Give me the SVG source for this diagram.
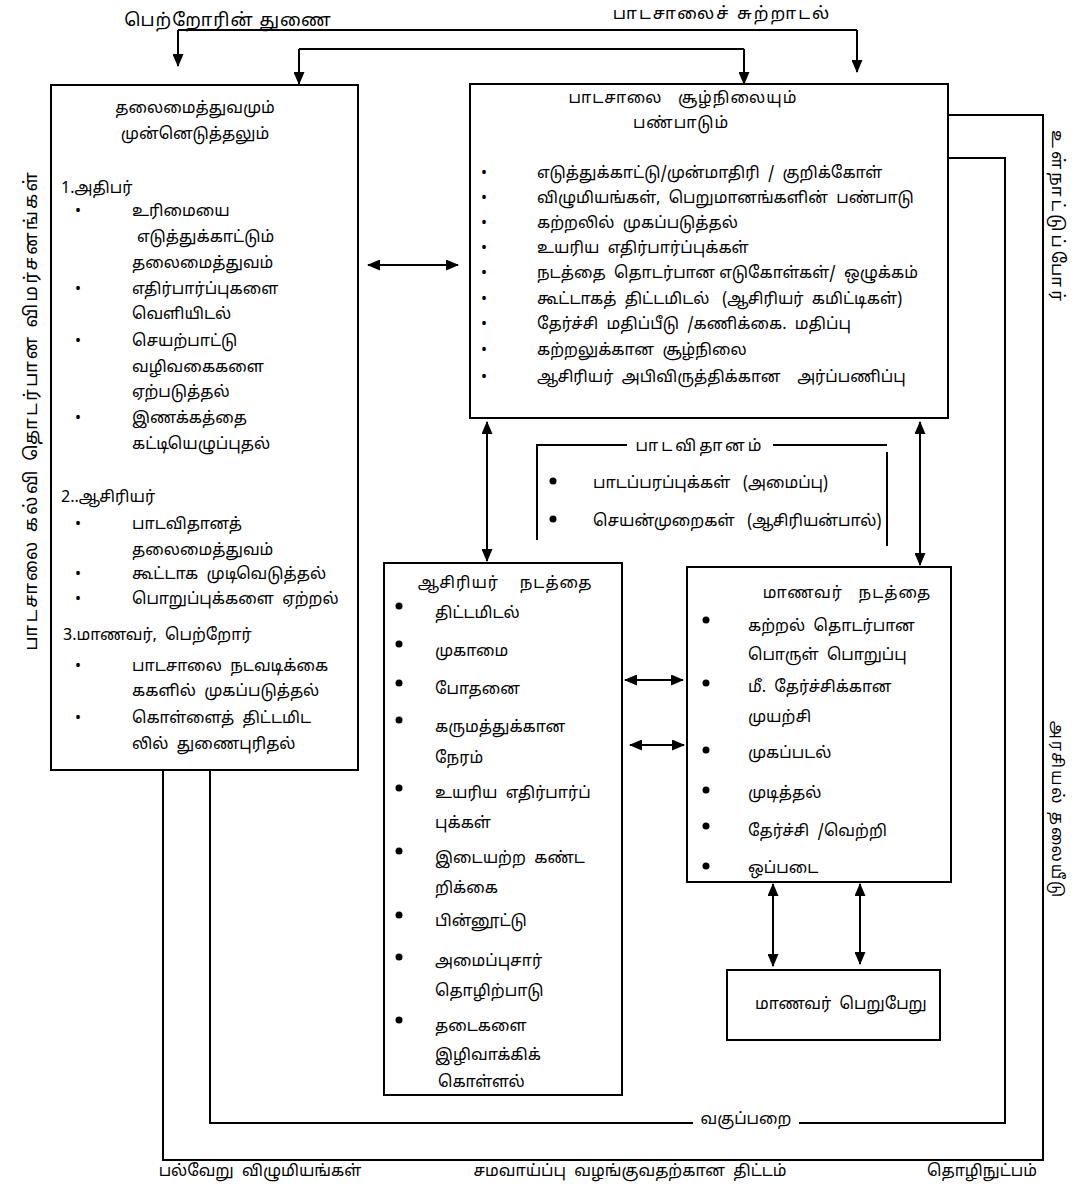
<svg xmlns="http://www.w3.org/2000/svg" width="1074" height="1184" viewBox="0 0 1074 1184">
<defs>
<marker id="ah" viewBox="0 0 13 11" refX="12" refY="5.5" markerWidth="13" markerHeight="11" markerUnits="userSpaceOnUse" orient="auto-start-reverse">
<path d="M0,0 L13,5.5 L0,11 Z" fill="#000"/>
</marker>
</defs>
<style>
text{font-family:'Noto Sans Tamil','Lohit Tamil','Noto Sans','Liberation Sans',sans-serif;font-size:16px;fill:#000;white-space:pre}
.box{fill:#fff;stroke:#000;stroke-width:2}
.ln{fill:none;stroke:#000;stroke-width:2}
.ar{fill:none;stroke:#000;stroke-width:2;marker-end:url(#ah)}
.dar{fill:none;stroke:#000;stroke-width:2;marker-start:url(#ah);marker-end:url(#ah)}
.c{text-anchor:middle}
.sp{letter-spacing:1px}
</style>
<rect width="1074" height="1184" fill="#fff"/>

<g id="connectors">
<polyline class="ln" points="178,30 857,30"/>
<line class="ar" x1="178" y1="30" x2="178" y2="66"/>
<line class="ar" x1="857" y1="30" x2="857" y2="72"/>
<polyline class="ln" points="299,49 744,49"/>
<line class="ar" x1="299" y1="49" x2="299" y2="84"/>
<line class="ar" x1="744" y1="49" x2="744" y2="84"/>
<line class="dar" x1="368" y1="265" x2="458" y2="265"/>
<line class="dar" x1="487" y1="422" x2="487" y2="561"/>
<line class="dar" x1="920" y1="422" x2="920" y2="565"/>
<line class="dar" x1="625" y1="680" x2="683" y2="680"/>
<line class="dar" x1="630" y1="745" x2="684" y2="745"/>
<line class="dar" x1="773" y1="884" x2="773" y2="966"/>
<line class="dar" x1="860" y1="884" x2="860" y2="964"/>
<polyline class="ln" points="537,540 537,445 627,445"/>
<line class="ln" x1="773" y1="445" x2="887" y2="445"/>
<line class="ln" x1="887" y1="452" x2="887" y2="546"/>
<polyline class="ln" points="210,770 210,1123 693,1123"/>
<polyline class="ln" points="799,1123 1005,1123 1005,158 948,158"/>
<polyline class="ln" points="163,770 163,1160 1043,1160 1043,115 948,115"/>
</g>

<g id="labels">
<text x="228" y="26" class="c" style="font-size:18px;letter-spacing:1px">பெற்றோரின் துணை</text>
<text x="722" y="19" class="c" style="font-size:17px;letter-spacing:2px">பாடசாலைச் சுற்றாடல்</text>
<text x="746" y="1124" class="c">வகுப்பறை</text>
<text x="260" y="1176" class="c">பல்வேறு  விழுமியங்கள்</text>
<text x="630" y="1176" class="c">சமவாய்ப்பு  வழங்குவதற்கான  திட்டம்</text>
<text x="982" y="1176" class="c">தொழிநுட்பம்</text>
<text transform="translate(37,410) rotate(-90)" class="c" style="font-size:18px;letter-spacing:2.5px">பாடசாலை கல்வி தொடர்பான விமர்சனங்கள்</text>
<text transform="translate(1052,217) rotate(90)" class="c" style="font-size:17px;letter-spacing:3px">உள்நாட்டுப்போர்</text>
<text transform="translate(1052,810) rotate(90)" class="c" style="letter-spacing:2px">அரசியல் தலையீடு</text>
</g>

<g id="leadership">
<rect class="box" x="51" y="85" width="307" height="685"/>
<text x="195" y="113" class="c">தலைமைத்துவமும்</text>
<text x="195" y="139" class="c">முன்னெடுத்தலும்</text>
<text x="61" y="193">1.அதிபர்</text>
<text x="75" y="216">•</text><text x="132" y="216">உரிமையை</text>
<text x="137" y="242">எடுத்துக்காட்டும்</text>
<text x="132" y="268">தலைமைத்துவம்</text>
<text x="75" y="294">•</text><text x="132" y="294">எதிர்பார்ப்புகளை</text>
<text x="132" y="319">வெளியிடல்</text>
<text x="75" y="346">•</text><text x="132" y="346">செயற்பாட்டு</text>
<text x="132" y="372">வழிவகைகளை</text>
<text x="132" y="397">ஏற்படுத்தல்</text>
<text x="75" y="423">•</text><text x="132" y="423">இணக்கத்தை</text>
<text x="132" y="449">கட்டியெழுப்புதல்</text>
<text x="61" y="502">2..ஆசிரியர்</text>
<text x="75" y="529">•</text><text x="132" y="529">பாடவிதானத்</text>
<text x="132" y="555">தலைமைத்துவம்</text>
<text x="75" y="579">•</text><text x="132" y="579">கூட்டாக  முடிவெடுத்தல்</text>
<text x="75" y="604">•</text><text x="132" y="604">பொறுப்புக்களை  ஏற்றல்</text>
<text x="63" y="640">3.மாணவர்,  பெற்றோர்</text>
<text x="75" y="671">•</text><text x="132" y="671">பாடசாலை  நடவடிக்கை</text>
<text x="132" y="696">ககளில்  முகப்படுத்தல்</text>
<text x="75" y="723">•</text><text x="132" y="723">கொள்ளைத்  திட்டமிட</text>
<text x="132" y="749">லில்  துணைபுரிதல்</text>
</g>

<g id="environment">
<rect class="box" x="470" y="84" width="478" height="334"/>
<text x="683" y="103" class="c sp">பாடசாலை   சூழ்நிலையும்</text>
<text x="681" y="128" class="c sp">பண்பாடும்</text>
<text x="481" y="178">•</text><text x="537" y="178">எடுத்துக்காட்டு/முன்மாதிரி  /  குறிக்கோள்</text>
<text x="481" y="203">•</text><text x="537" y="203">விழுமியங்கள்,  பெறுமானங்களின்  பண்பாடு</text>
<text x="481" y="228">•</text><text x="537" y="228">கற்றலில்  முகப்படுத்தல்</text>
<text x="481" y="253">•</text><text x="537" y="253">உயரிய  எதிர்பார்ப்புக்கள்</text>
<text x="481" y="278">•</text><text x="537" y="278">நடத்தை  தொடர்பான எடுகோள்கள்/  ஒழுக்கம்</text>
<text x="481" y="304">•</text><text x="537" y="304">கூட்டாகத்  திட்டமிடல்   (ஆசிரியர்  கமிட்டிகள்)</text>
<text x="481" y="329">•</text><text x="537" y="329">தேர்ச்சி  மதிப்பீடு  /கணிக்கை.  மதிப்பு</text>
<text x="481" y="355">•</text><text x="537" y="355">கற்றலுக்கான  சூழ்நிலை</text>
<text x="481" y="382">•</text><text x="537" y="382">ஆசிரியர்  அபிவிருத்திக்கான    அர்ப்பணிப்பு</text>
</g>

<g id="curriculum">
<text x="700" y="451" class="c" style="letter-spacing:3px">பாடவிதானம்</text>
<circle cx="553" cy="481" r="3.5"/><text x="593" y="488">பாடப்பரப்புக்கள்   (அமைப்பு)</text>
<circle cx="553" cy="519" r="3.5"/><text x="593" y="526">செயன்முறைகள்   (ஆசிரியன்பால்)</text>
</g>

<g id="teacher">
<rect class="box" x="384" y="563" width="238" height="532"/>
<text x="505" y="588" class="c sp">ஆசிரியர்    நடத்தை</text>
<circle cx="399" cy="606" r="3.5"/><text x="435" y="618">திட்டமிடல்</text>
<circle cx="399" cy="644" r="3.5"/><text x="435" y="656">முகாமை</text>
<circle cx="399" cy="683" r="3.5"/><text x="435" y="694">போதனை</text>
<circle cx="399" cy="720" r="3.5"/><text x="435" y="732">கருமத்துக்கான</text>
<text x="435" y="763">நேரம்</text>
<circle cx="399" cy="788" r="3.5"/><text x="435" y="798">உயரிய  எதிர்பார்ப்</text>
<text x="435" y="828">புக்கள்</text>
<circle cx="399" cy="851" r="3.5"/><text x="435" y="863">இடையற்ற  கண்ட</text>
<text x="435" y="893">றிக்கை</text>
<circle cx="399" cy="915" r="3.5"/><text x="435" y="926">பின்னூட்டு</text>
<circle cx="399" cy="957" r="3.5"/><text x="435" y="966">அமைப்புசார்</text>
<text x="435" y="996">தொழிற்பாடு</text>
<circle cx="399" cy="1020" r="3.5"/><text x="435" y="1031">தடைகளை</text>
<text x="435" y="1060">இழிவாக்கிக்</text>
<text x="438" y="1087">கொள்ளல்</text>
</g>

<g id="student">
<rect class="box" x="687" y="567" width="264" height="315"/>
<text x="847" y="598" class="c sp">மாணவர்   நடத்தை</text>
<circle cx="706" cy="620" r="3.5"/><text x="748" y="631">கற்றல்  தொடர்பான</text>
<text x="748" y="660">பொருள்  பொறுப்பு</text>
<circle cx="706" cy="683" r="3.5"/><text x="748" y="692">மீ.  தேர்ச்சிக்கான</text>
<text x="748" y="722">முயற்சி</text>
<circle cx="706" cy="750" r="3.5"/><text x="748" y="758">முகப்படல்</text>
<circle cx="706" cy="790" r="3.5"/><text x="748" y="798">முடித்தல்</text>
<circle cx="706" cy="826" r="3.5"/><text x="748" y="836">தேர்ச்சி  /வெற்றி</text>
<circle cx="706" cy="866" r="3.5"/><text x="748" y="873">ஒப்படை</text>
</g>

<g id="outcome">
<rect class="box" x="727" y="970" width="213" height="70"/>
<text x="755" y="1009">மாணவர்  பெறுபேறு</text>
</g>
</svg>
